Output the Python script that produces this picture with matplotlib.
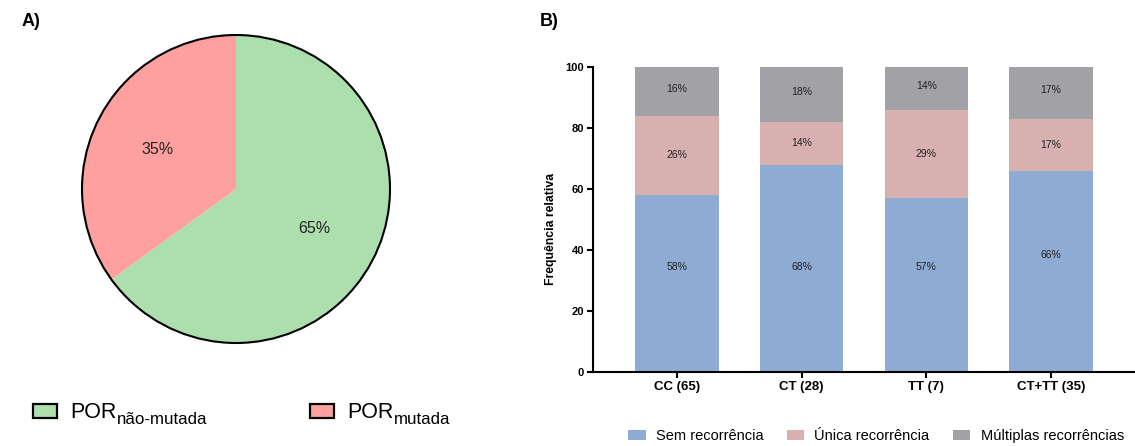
import matplotlib
matplotlib.use("Agg")
import matplotlib.pyplot as plt
from matplotlib.patches import Patch, Circle
import numpy as np

plt.rcParams['font.family'] = ['Liberation Sans', 'DejaVu Sans']

# ---- data ----
pie_main = ['POR', 'POR']
pie_sub = ['não-mutada', 'mutada']
pie_values = [65, 35]
pie_colors = ['#addfae', '#ffa0a0']

groups = ['CC (65)', 'CT (28)', 'TT (7)', 'CT+TT (35)']
sem = [58, 68, 57, 66]
unica = [26, 14, 29, 17]
multiplas = [16, 18, 14, 17]
series_names = ['Sem recorrência', 'Única recorrência', 'Múltiplas recorrências']
bar_colors = ['#8eabd4', '#d8b0b0', '#a2a2a6']
yticks = [0, 20, 40, 60, 80, 100]

W, H = 1135, 446
fig = plt.figure(figsize=(W / 100, H / 100), dpi=100)

# ---- pie ----
cx, cy, r = 236, 189, 154
half = 165
axp = fig.add_axes([(cx - half) / W, 1 - (cy + half) / H, 2 * half / W, 2 * half / H])
wedges, texts, autotexts = axp.pie(pie_values, colors=pie_colors, startangle=90,
                                   counterclock=False, radius=1,
                                   autopct='%d%%', pctdistance=0.57,
                                   wedgeprops=dict(linewidth=0),
                                   textprops=dict(fontsize=11.5, color='#222222'))
axp.add_patch(Circle((0, 0), 1, fill=False, edgecolor='black', linewidth=1.5))
lim = half / r
axp.set_xlim(-lim, lim)
axp.set_ylim(-lim, lim)
axp.axis('off')

pie_legends = []
for lab, col, x0 in zip(pie_main, pie_colors, [33, 310]):
    lg = fig.legend(handles=[Patch(facecolor=col, edgecolor='black', linewidth=1.6)],
                    labels=[lab], loc='center left',
                    bbox_to_anchor=(x0 / W, 1 - 413 / H), frameon=False,
                    fontsize=15.5, handlelength=1.1, handleheight=0.62,
                    handletextpad=0.65, borderaxespad=0, borderpad=0)
    pie_legends.append(lg)

fig.text(22 / W, 1 - 22 / H, 'A)', fontsize=13, fontweight='bold', va='center', ha='left')
fig.text(540 / W, 1 - 22 / H, 'B)', fontsize=13, fontweight='bold', va='center', ha='left')

# ---- stacked bars ----
x0p, x1p, y0p, y1p = 593, 1134, 372, 67
axb = fig.add_axes([x0p / W, 1 - y0p / H, (x1p - x0p) / W, (y0p - y1p) / H])
x = np.arange(len(groups))
bw = 0.67
sem_a = np.array(sem); uni_a = np.array(unica); mul_a = np.array(multiplas)
axb.bar(x, sem_a, bw, color=bar_colors[0], label=series_names[0])
axb.bar(x, uni_a, bw, bottom=sem_a, color=bar_colors[1], label=series_names[1])
axb.bar(x, mul_a, bw, bottom=sem_a + uni_a, color=bar_colors[2], label=series_names[2])

bottom_label_y = [34.5, 34.5, 34.5, 38.5]
for i in x:
    axb.text(i, bottom_label_y[i], f'{sem[i]}%', ha='center', va='center', fontsize=7.5, color='#222222')
    axb.text(i, sem[i] + unica[i] / 2, f'{unica[i]}%', ha='center', va='center', fontsize=7.5, color='#222222')
    axb.text(i, sem[i] + unica[i] + multiplas[i] / 2 + 0.8, f'{multiplas[i]}%', ha='center', va='center', fontsize=7.5, color='#222222')

axb.set_xlim(-0.674, 3.665)
axb.set_ylim(0, 100)
axb.set_yticks(yticks)
axb.set_xticks(x)
axb.set_xticklabels(groups, fontweight='bold', fontsize=9.5)
for t in axb.get_yticklabels():
    t.set_fontweight('bold')
    t.set_fontsize(8)
axb.spines['top'].set_visible(False)
axb.spines['right'].set_visible(False)
for s in ['left', 'bottom']:
    axb.spines[s].set_linewidth(1.5)
axb.tick_params(axis='both', length=4.5, width=1.5, pad=2)
axb.set_ylabel('Frequência relativa', fontsize=8.8, fontweight='bold')
axb.yaxis.set_label_coords(-0.066, 0.47)

fig.legend(handles=[Patch(facecolor=c) for c in bar_colors], labels=series_names,
           loc='center', bbox_to_anchor=(876 / W, 1 - 436 / H), ncol=3, frameon=False,
           fontsize=10.5, handlelength=1.2, handleheight=0.75, handletextpad=0.7,
           columnspacing=1.6, borderaxespad=0, borderpad=0)

# subscripts for the pie legend, placed right after the "POR" text
fig.canvas.draw()
renderer = fig.canvas.get_renderer()
for lg, sub in zip(pie_legends, pie_sub):
    t = lg.get_texts()[0]
    bb = t.get_window_extent(renderer)
    fig.text((bb.x1 - 0.5) / W, (1 - 423.5 / H), sub, fontsize=12.2,
             ha='left', va='baseline', color=t.get_color())

fig.savefig('out.png', dpi=100)
